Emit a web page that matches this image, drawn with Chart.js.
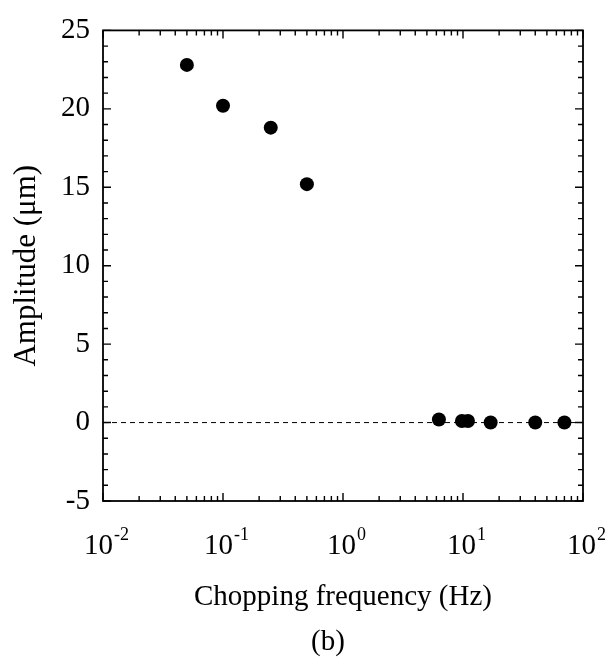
<!DOCTYPE html>
<html>
<head>
<meta charset="utf-8">
<script src="https://cdn.jsdelivr.net/npm/chart.js@4/dist/chart.umd.min.js"></script>
<style>
  html, body { margin: 0; padding: 0; background: #fff; }
  #wrap { width: 614px; height: 668px; }
</style>
</head>
<body>
<div id="wrap"><canvas id="c" width="614" height="668"></canvas></div>
<script>
// ---- data ----
const frequencyHz = [0.05, 0.1, 0.25, 0.5, 6.3, 9.8, 11, 17, 40, 70];
const amplitudeUm = [22.8, 20.2, 18.8, 15.2, 0.2, 0.1, 0.1, 0.0, 0.0, 0.0];
const zeroLineX = [0.01, 100];
const zeroLineY = [0, 0];
const xDecadeExponents = [-2, -1, 0, 1, 2];
const yTickStep = 5;
const yMin = -5, yMax = 25, xMin = 0.01, xMax = 100;
const xTitle = 'Chopping frequency (Hz)';
const yTitle = 'Amplitude (\u03bcm)';
const panelLabel = '(b)';

const FONT = "'Liberation Serif', 'Times New Roman', serif";

const framePlugin = {
  id: 'frame',
  afterDatasetsDraw(chart) {
    const ctx = chart.ctx;
    const a = chart.chartArea;
    const xs = chart.scales.x, ys = chart.scales.y;
    ctx.save();
    ctx.strokeStyle = '#000';
    ctx.lineWidth = 1.8;
    ctx.strokeRect(a.left, a.top, a.right - a.left, a.bottom - a.top);
    ctx.lineWidth = 1.4;
    ctx.beginPath();
    // x ticks (bottom and top, inward)
    for (let i = 0; i < xDecadeExponents.length; i++) {
      const e = xDecadeExponents[i];
      for (let m = 1; m <= 9; m++) {
        const v = m * Math.pow(10, e);
        if (v < xMin || v > xMax) continue;
        const px = xs.getPixelForValue(v);
        const len = m === 1 ? 8 : 5;
        ctx.moveTo(px, a.bottom); ctx.lineTo(px, a.bottom - len);
        ctx.moveTo(px, a.top); ctx.lineTo(px, a.top + len);
      }
    }
    // y ticks (left and right, inward)
    for (let v = yMin; v <= yMax; v += 1) {
      const py = ys.getPixelForValue(v);
      const len = (v % yTickStep === 0) ? 8 : 5;
      ctx.moveTo(a.left, py); ctx.lineTo(a.left + len, py);
      ctx.moveTo(a.right, py); ctx.lineTo(a.right - len, py);
    }
    ctx.stroke();

    // x tick labels with superscript exponents
    ctx.fillStyle = '#000';
    ctx.textBaseline = 'alphabetic';
    ctx.textAlign = 'left';
    const baseFont = '29px ' + FONT;
    const supFont = '18px ' + FONT;
    xDecadeExponents.forEach(e => {
      const px = xs.getPixelForValue(Math.pow(10, e));
      ctx.font = baseFont;
      const wb = ctx.measureText('10').width;
      ctx.font = supFont;
      const es = String(e);
      const we = ctx.measureText(es).width;
      const x0 = px - (wb + we) / 2 + 3;
      ctx.font = baseFont;
      ctx.fillText('10', x0, 554);
      ctx.font = supFont;
      ctx.fillText(es, x0 + wb + 1, 540);
    });

    // panel label
    ctx.font = '29px ' + FONT;
    ctx.textAlign = 'center';
    ctx.textBaseline = 'middle';
    ctx.fillText(panelLabel, 328, 642);
    ctx.restore();
  }
};

new Chart(document.getElementById('c'), {
  data: {
    datasets: [
      {
        type: 'scatter',
        data: frequencyHz.map((x, i) => ({ x: x, y: amplitudeUm[i] })),
        backgroundColor: '#000',
        borderColor: '#000',
        pointRadius: 7,
        pointHoverRadius: 7,
        borderWidth: 0
      },
      {
        type: 'line',
        data: zeroLineX.map((x, i) => ({ x: x, y: zeroLineY[i] })),
        borderColor: '#000',
        borderWidth: 1,
        borderDash: [5, 4],
        pointRadius: 0,
        fill: false
      }
    ]
  },
  options: {
    responsive: false,
    animation: false,
    layout: { padding: { left: 0, top: 29, right: 31, bottom: 0 } },
    plugins: { legend: { display: false }, tooltip: { enabled: false } },
    scales: {
      x: {
        type: 'logarithmic',
        min: xMin, max: xMax,
        grid: { display: false },
        border: { display: false },
        ticks: { display: false },
        title: {
          display: true,
          text: xTitle,
          color: '#000',
          font: { family: FONT, size: 29 },
          padding: { top: 0, bottom: 53 }
        },
        afterFit(scale) { scale.height = 167; }
      },
      y: {
        type: 'linear',
        min: yMin, max: yMax,
        grid: { display: false, drawTicks: false },
        border: { display: false },
        ticks: {
          stepSize: yTickStep,
          padding: 13,
          color: '#000',
          font: { family: FONT, size: 29 }
        },
        title: {
          display: true,
          text: yTitle,
          color: '#000',
          font: { family: FONT, size: 31 },
          padding: { top: 8, bottom: 0 }
        },
        afterFit(scale) { scale.width = 103; }
      }
    }
  },
  plugins: [framePlugin]
});
</script>
</body>
</html>
